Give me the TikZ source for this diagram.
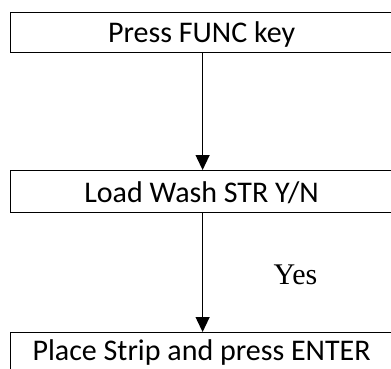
\documentclass[tikz,border=0pt]{standalone}
\usepackage{fontspec}
\setmainfont{Carlito}
\newfontfamily\yesfont{Liberation Serif}
\usetikzlibrary{arrows.meta}
\begin{document}
\begin{tikzpicture}[x=1pt,y=1pt,
  stepbox/.style={draw=black, line width=1.2pt, inner xsep=0pt, inner ysep=0pt,
    minimum width=382pt, font=\fontsize{30}{32}\selectfont, align=center},
  arr/.style={draw=black, line width=1.2pt, -{Triangle[width=14pt,length=15pt]}}]
\useasboundingbox (0,0) rectangle (391,-369);
\node[stepbox, text height=30pt, text depth=10pt, anchor=north west] (b1) at (10,-12) {Press FUNC key};
\node[stepbox, text height=32pt, text depth=10pt, anchor=north west] (b2) at (10,-170) {Load Wash STR Y/N};
\node[stepbox, text height=28pt, text depth=12pt, anchor=north west] (b3) at (10,-332) {Place Strip and press ENTER};
\draw[arr] ([xshift=1pt]b1.south) -- ([xshift=1pt]b2.north);
\draw[arr] ([xshift=1pt]b2.south) -- ([xshift=1pt]b3.north);
\node[font=\yesfont\fontsize{30}{32}\selectfont, anchor=base, inner sep=0pt] (yes) at (295.5,-284) {Yes};
\end{tikzpicture}
\end{document}
